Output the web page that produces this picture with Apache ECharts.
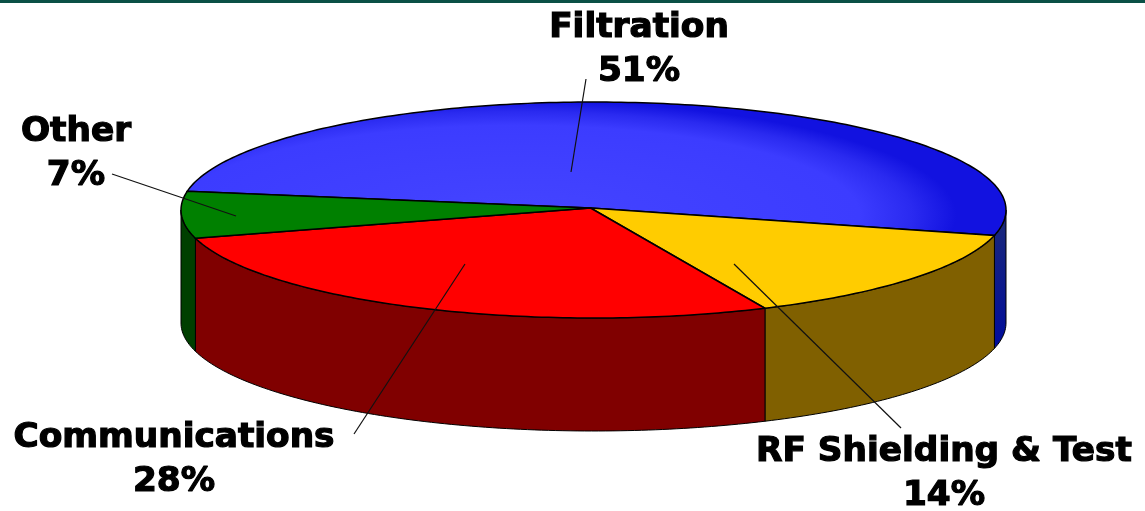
<!DOCTYPE html>
<html lang="en">
  <head>
    <meta charset="UTF-8" />
    <title>Market share</title>
    <script src="https://cdn.jsdelivr.net/npm/echarts@6/dist/echarts.min.js"></script>
    <style>
      html,
      body {
        margin: 0;
        padding: 0;
        background: #fff;
      }
      #chart {
        width: 1145px;
        height: 511px;
      }
    </style>
  </head>
  <body>
    <div id="chart"></div>
    <script>
      const categories = ["Filtration", "RF Shielding & Test", "Communications", "Other"];
      // slice sizes as measured on the picture, labels round them
      const shares = [51, 14.4, 27.6, 7];

      // pie geometry
      const cx = 593.5;
      const cy = 210;
      const rx = 412.5;
      const ry = 108;
      const depth = 113;
      const startAngle = -170;

      const topColors = ["#3c3cff", "#ffcc00", "#ff0000", "#008000"];
      const wallColors = ["#14207e", "#806000", "#800000", "#003f00"];

      // label centre, then leader line start and end
      const labelBoxes = [
        { x: 639, y: 50, from: [586, 79], to: [571, 172] },
        { x: 944, y: 474, from: [901, 428], to: [734, 264] },
        { x: 174, y: 460, from: [354, 434], to: [465, 264] },
        { x: 76, y: 154, from: [112, 174], to: [236, 216] },
      ];

      const total = shares.reduce((a, b) => a + b, 0);
      const angleRange = (i) => {
        let before = 0;
        for (let k = 0; k < i; k++) before += shares[k];
        return [
          startAngle + (before / total) * 360,
          startAngle + ((before + shares[i]) / total) * 360,
        ];
      };
      const rimPoint = (deg, drop) => {
        const t = (deg * Math.PI) / 180;
        return [cx + rx * Math.cos(t), cy + ry * Math.sin(t) + drop];
      };
      const arc = (a, b, drop) => {
        const pts = [];
        const steps = Math.max(2, Math.ceil(Math.abs(b - a)));
        for (let s = 0; s <= steps; s++) pts.push(rimPoint(a + ((b - a) * s) / steps, drop));
        return pts;
      };

      // only the part of each slice between 0 and 180 degrees faces the viewer
      const frontRanges = (a, b) => {
        const out = [];
        [-360, 0].forEach((turn) => {
          const lo = Math.max(a, turn);
          const hi = Math.min(b, turn + 180);
          if (hi > lo) out.push([lo, hi]);
        });
        return out;
      };

      function renderWall(params, api) {
        const i = api.value(0);
        const [a, b] = angleRange(i);
        const fill =
          i === 0
            ? {
                type: "linear",
                x: 0,
                y: 0,
                x2: 0,
                y2: 1,
                colorStops: [
                  { offset: 0, color: "#1c2a78" },
                  { offset: 1, color: "#000c9c" },
                ],
              }
            : wallColors[i];
        const children = frontRanges(a, b).map(([lo, hi]) => ({
          type: "polygon",
          shape: { points: arc(lo, hi, 0).concat(arc(hi, lo, depth)) },
          style: { fill, stroke: "#000", lineWidth: 1 },
        }));
        return { type: "group", children };
      }

      function renderTop(params, api) {
        const i = api.value(0);
        const [a, b] = angleRange(i);
        const points = [[cx - 3, cy - 2]].concat(arc(a, b, 0));
        if (i === 0) {
          // the blue slice is shaded: an elliptical gradient, darker towards the far rim
          const k = rx / ry;
          const local = points.map((p) => [(p[0] - cx) / k, p[1] - cy]);
          return {
            type: "group",
            children: [
              {
                type: "polygon",
                x: cx,
                y: cy,
                scaleX: k,
                shape: { points: local },
                style: {
                  fill: {
                    type: "radial",
                    x: -20,
                    y: 5,
                    r: 115,
                    global: true,
                    colorStops: [
                      { offset: 0, color: "#4444ff" },
                      { offset: 0.78, color: "#3c3cff" },
                      { offset: 0.9, color: "#2a2af0" },
                      { offset: 1, color: "#1212e0" },
                    ],
                  },
                },
              },
              {
                type: "polygon",
                shape: { points },
                style: { fill: "none", stroke: "#000", lineWidth: 1.5 },
              },
            ],
          };
        }
        return {
          type: "polygon",
          shape: { points },
          style: { fill: topColors[i], stroke: "#000", lineWidth: 1.5 },
        };
      }

      function renderLabel(params, api) {
        const i = api.value(0);
        const box = labelBoxes[i];
        return {
          type: "group",
          children: [
            {
              type: "line",
              shape: { x1: box.from[0], y1: box.from[1], x2: box.to[0], y2: box.to[1] },
              style: { stroke: "#111", lineWidth: 1.2 },
            },
            {
              type: "text",
              x: box.x,
              y: box.y,
              scaleX: 1.04,
              style: {
                text: categories[i] + "\n" + Math.round(shares[i]) + "%",
                fontFamily: "DejaVu Sans",
                fontWeight: "bold",
                fontSize: 33,
                lineHeight: 44,
                align: "center",
                verticalAlign: "middle",
                fill: "#000",
                stroke: "#000",
                lineWidth: 1.2,
              },
            },
          ],
        };
      }

      const rows = shares.map((v, i) => [i, v]);
      const chart = echarts.init(document.getElementById("chart"));
      chart.setOption({
        animation: false,
        backgroundColor: "#fff",
        graphic: [
          {
            type: "rect",
            shape: { x: 0, y: 0, width: 1145, height: 3 },
            style: { fill: "#0b5046" },
          },
        ],
        series: [
          { type: "custom", coordinateSystem: "none", z: 1, data: rows, renderItem: renderWall },
          { type: "custom", coordinateSystem: "none", z: 2, data: rows, renderItem: renderTop },
          { type: "custom", coordinateSystem: "none", z: 3, data: rows, renderItem: renderLabel },
        ],
      });
    </script>
  </body>
</html>
